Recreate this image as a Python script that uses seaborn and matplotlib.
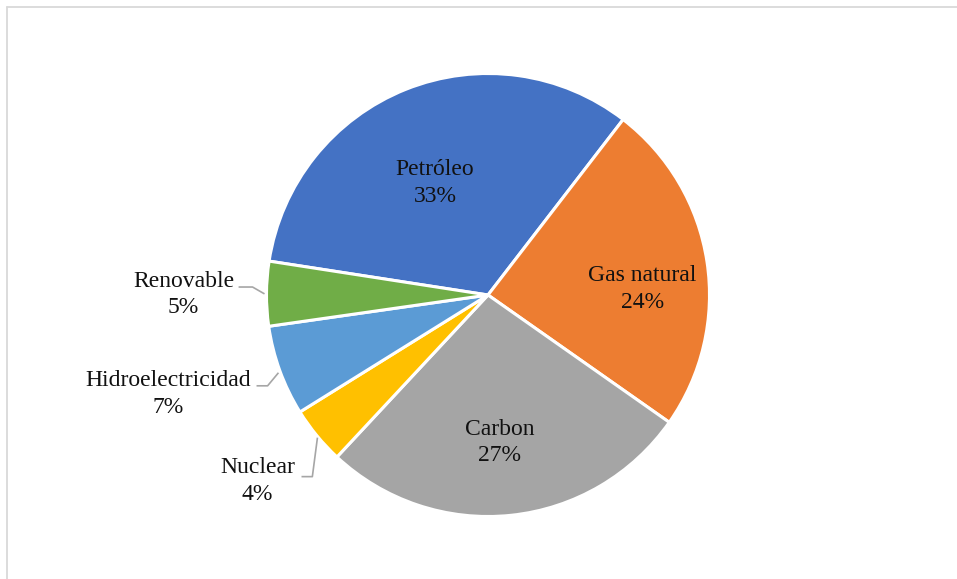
import matplotlib
matplotlib.use("Agg")
import matplotlib.pyplot as plt
import seaborn as sns
from matplotlib.lines import Line2D

# ---- data ----
categories = ["Petróleo", "Gas natural", "Carbon", "Nuclear", "Hidroelectricidad", "Renovable"]
shares = [33.0, 24.3, 27.2, 4.2, 6.6, 4.7]
colors = ["#4472C4", "#ED7D31", "#A5A5A5", "#FFC000", "#5B9BD5", "#70AD47"]

sns.set_theme(style="white")
plt.rcParams["font.family"] = ["Liberation Serif", "DejaVu Serif"]

W, H = 957, 579
fig = plt.figure(figsize=(W / 100, H / 100), dpi=100)
fig.patch.set_facecolor("white")

cx, cy, r = 488, 295, 221.5
ax = fig.add_axes([(cx - r) / W, 1 - (cy + r) / H, 2 * r / W, 2 * r / H])
ax.pie(shares, colors=colors, startangle=171.2, counterclock=False, radius=1,
       wedgeprops=dict(edgecolor="white", linewidth=2.2))
ax.set_xlim(-1, 1)
ax.set_ylim(-1, 1)
ax.set_aspect("auto")
ax.axis("off")

# label layout (data coordinates of the unit pie)
label_pos = {
    "Petróleo": (-0.239, 0.505),
    "Gas natural": (0.698, 0.027),
    "Carbon": (0.054, -0.666),
    "Nuclear": (-1.041, -0.840),
    "Hidroelectricidad": (-1.446, -0.448),
    "Renovable": (-1.374, 0.003),
}
leaders = {
    "Renovable": ([-1.126, -1.063, -1.009], [0.036, 0.036, 0.005]),
    "Hidroelectricidad": ([-1.045, -0.995, -0.946], [-0.410, -0.410, -0.351]),
    "Nuclear": ([-0.842, -0.793, -0.770], [-0.820, -0.820, -0.644]),
}
total = sum(shares)
for cat, val in zip(categories, shares):
    x, y = label_pos[cat]
    ax.text(x, y, f"{cat}\n{round(100 * val / total)}%", ha="center", va="center",
            fontsize=17, color="#111111", linespacing=1.35, clip_on=False)
for cat, (xs, ys) in leaders.items():
    ax.plot(xs, ys, color="#A6A6A6", lw=1.2, clip_on=False, solid_capstyle="butt")

# chart border (top and left visible)
fig.add_artist(Line2D([7.5 / W, 1], [1 - 6.5 / H, 1 - 6.5 / H], color="#D9D9D9", lw=1.3))
fig.add_artist(Line2D([7.5 / W, 7.5 / W], [0, 1 - 6.5 / H], color="#D9D9D9", lw=1.3))

fig.savefig("out.png", dpi=100, facecolor="white")
